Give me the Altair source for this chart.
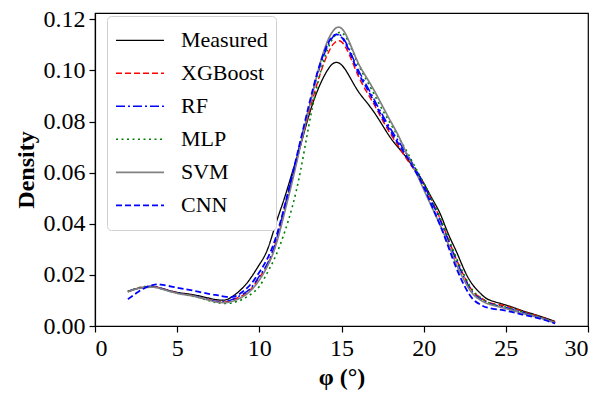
import altair as alt
import pandas as pd

phi = [2, 2.5, 3, 3.5, 4, 5, 6, 7, 7.5, 8, 8.5, 9, 9.5, 10, 10.5, 11, 11.5, 12, 12.5, 13,
       13.5, 14, 14.5, 15, 15.5, 16, 16.5, 17, 17.5, 18, 18.5, 19, 19.5, 20, 20.5, 21,
       21.5, 22, 22.5, 23, 23.5, 24, 25, 26, 27, 28]

measured = [0.0134, 0.0145, 0.0152, 0.0154, 0.0148, 0.0132, 0.0122, 0.0108, 0.0102, 0.0103,
            0.0122, 0.0150, 0.0190, 0.0240, 0.0300, 0.0400, 0.0495, 0.0600, 0.0705, 0.0820,
            0.0915, 0.0985, 0.1028, 0.1022, 0.0975, 0.0920, 0.0878, 0.0835, 0.0785, 0.0735,
            0.0695, 0.0655, 0.0610, 0.0560, 0.0500, 0.0440, 0.0360, 0.0290, 0.0215, 0.0160,
            0.0125, 0.0102, 0.0082, 0.0060, 0.0040, 0.0018]
xgboost = [0.0135, 0.0146, 0.0153, 0.0155, 0.0148, 0.0130, 0.0118, 0.0102, 0.0095, 0.0095,
           0.0105, 0.0120, 0.0145, 0.0190, 0.0240, 0.0325, 0.0450, 0.0575, 0.0705, 0.0830,
           0.0945, 0.1040, 0.1103, 0.1112, 0.1058, 0.0982, 0.0920, 0.0865, 0.0805, 0.0750,
           0.0700, 0.0650, 0.0605, 0.0555, 0.0490, 0.0420, 0.0340, 0.0260, 0.0190, 0.0135,
           0.0110, 0.0092, 0.0078, 0.0058, 0.0038, 0.0015]
rf = [0.0135, 0.0146, 0.0153, 0.0155, 0.0148, 0.0129, 0.0118, 0.0102, 0.0095, 0.0096,
      0.0108, 0.0125, 0.0150, 0.0195, 0.0245, 0.0330, 0.0455, 0.0585, 0.0720, 0.0850,
      0.0975, 0.1072, 0.1133, 0.1135, 0.1078, 0.1005, 0.0945, 0.0885, 0.0825, 0.0770,
      0.0720, 0.0670, 0.0615, 0.0555, 0.0485, 0.0415, 0.0335, 0.0255, 0.0185, 0.0130,
      0.0105, 0.0088, 0.0072, 0.0054, 0.0035, 0.0013]
mlp = [0.0136, 0.0147, 0.0154, 0.0153, 0.0146, 0.0128, 0.0116, 0.0098, 0.0090, 0.0088,
       0.0093, 0.0105, 0.0125, 0.0155, 0.0210, 0.0275, 0.0360, 0.0465, 0.0605, 0.0780,
       0.0935, 0.1055, 0.1128, 0.1148, 0.1102, 0.1025, 0.0965, 0.0905, 0.0845, 0.0790,
       0.0735, 0.0680, 0.0620, 0.0560, 0.0495, 0.0425, 0.0345, 0.0265, 0.0195, 0.0138,
       0.0110, 0.0090, 0.0074, 0.0055, 0.0036, 0.0014]
svm = [0.0134, 0.0145, 0.0150, 0.0152, 0.0146, 0.0128, 0.0117, 0.0100, 0.0093, 0.0092,
       0.0100, 0.0115, 0.0140, 0.0180, 0.0235, 0.0315, 0.0435, 0.0565, 0.0705, 0.0845,
       0.0980, 0.1090, 0.1156, 0.1165, 0.1108, 0.1032, 0.0975, 0.0920, 0.0860, 0.0800,
       0.0740, 0.0670, 0.0605, 0.0535, 0.0465, 0.0395, 0.0320, 0.0240, 0.0175, 0.0125,
       0.0100, 0.0085, 0.0068, 0.0050, 0.0033, 0.0012]
cnn = [0.0105, 0.0128, 0.0148, 0.0160, 0.0162, 0.0150, 0.0138, 0.0125, 0.0120, 0.0114,
       0.0116, 0.0135, 0.0165, 0.0210, 0.0265, 0.0345, 0.0460, 0.0590, 0.0725, 0.0860,
       0.0985, 0.1080, 0.1136, 0.1130, 0.1072, 0.0995, 0.0935, 0.0875, 0.0815, 0.0760,
       0.0710, 0.0660, 0.0605, 0.0545, 0.0470, 0.0395, 0.0310, 0.0225, 0.0155, 0.0105,
       0.0082, 0.0070, 0.0060, 0.0045, 0.0030, 0.0010]

models = ["Measured", "XGBoost", "RF", "MLP", "SVM", "CNN"]
series = [measured, xgboost, rf, mlp, svm, cnn]
colors = ["#000000", "#ff0000", "#0000ff", "#008000", "#808080", "#0000ff"]
dashes = [[1, 0], [6, 3], [9, 3, 2, 3], [2, 3.5], [1, 0], [6, 3]]
widths = [1.3, 1.8, 2.0, 2.0, 2.2, 1.6]

rows = []
for m, vals in zip(models, series):
    for xv, yv in zip(phi, vals):
        rows.append({"phi": xv, "density": yv, "Model": m})
df = pd.DataFrame(rows)

font = "Liberation Serif"
leg = alt.Legend(
    title=None, orient="none", legendX=12, legendY=3,
    symbolType="stroke", symbolSize=2300, labelFont=font, labelFontSize=22,
    labelColor="#000", labelOffset=16, rowPadding=0, padding=8, clipHeight=32.6,
    strokeColor="#d0d0d0", fillColor="white", cornerRadius=4,
)

chart = alt.Chart(df).mark_line(interpolate="natural").encode(
    x=alt.X("phi:Q", title="φ (°)", scale=alt.Scale(domain=[0, 30], nice=False),
            axis=alt.Axis(values=[0, 5, 10, 15, 20, 25, 30], format="d")),
    y=alt.Y("density:Q", title="Density", scale=alt.Scale(domain=[0, 0.1225], nice=False),
            axis=alt.Axis(values=[0, 0.02, 0.04, 0.06, 0.08, 0.10, 0.12], format=".2f")),
    color=alt.Color("Model:N", sort=models, scale=alt.Scale(domain=models, range=colors), legend=leg),
    strokeDash=alt.StrokeDash("Model:N", sort=models, scale=alt.Scale(domain=models, range=dashes), legend=leg),
    strokeWidth=alt.StrokeWidth("Model:N", sort=models, scale=alt.Scale(domain=models, range=widths), legend=leg),
).properties(
    width=493, height=313,
    autosize=alt.AutoSizeParams(type="none"),
    padding={"left": 95, "top": 13, "right": 12, "bottom": 70},
).configure_view(
    stroke="#000", strokeWidth=1.2
).configure_axis(
    domainColor="#000", domainWidth=1.2, tickColor="#000", tickSize=6, tickWidth=1.2,
    labelFont=font, labelFontSize=24, labelColor="#000", labelPadding=4, grid=False,
    titleFont=font, titleFontSize=24, titleFontWeight="bold", titleColor="#000",
).configure_axisY(
    titlePadding=5
).configure_axisX(
    titlePadding=5
)

chart.save("out.html", embed_options={"renderer": "svg", "actions": False})
